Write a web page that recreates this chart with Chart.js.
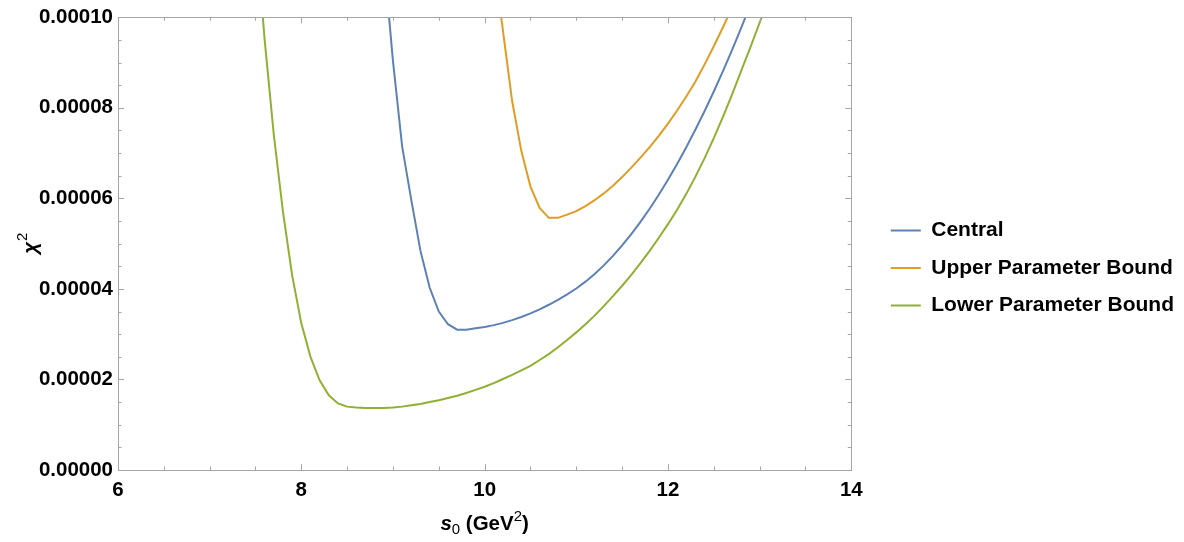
<!DOCTYPE html>
<html>
<head>
<meta charset="utf-8">
<title>chi2 vs s0</title>
<script src="https://cdn.jsdelivr.net/npm/chart.js@4.4.1/dist/chart.umd.min.js"></script>
<style>
	html, body { margin: 0; padding: 0; background: #ffffff; }
	#chi2Chart { display: block; }
</style>
</head>
<body>
<canvas id="chi2Chart" width="1184" height="542"></canvas>
<script>
	// Series labels
	var seriesNames = ['Central', 'Upper Parameter Bound', 'Lower Parameter Bound'];

	// s0 (GeV^2) sample points for each curve
	var s0Central = [8.9, 9.0, 9.1, 9.2, 9.3, 9.4, 9.5, 9.6, 9.7, 9.8, 9.9,
		10.0, 10.1, 10.2, 10.3, 10.4, 10.5, 10.6, 10.7, 10.8, 10.9,
		11.0, 11.1, 11.2, 11.3, 11.4, 11.5, 11.6, 11.7, 11.8, 11.9,
		12.0, 12.1, 12.2, 12.3, 12.4, 12.5, 12.6, 12.7, 12.8, 12.9];
	var s0Upper = [10.1, 10.2, 10.3, 10.4, 10.5, 10.6, 10.7, 10.8, 10.9,
		11.0, 11.1, 11.2, 11.3, 11.4, 11.5, 11.6, 11.7, 11.8, 11.9,
		12.0, 12.1, 12.2, 12.3, 12.4, 12.5, 12.6, 12.7];
	var s0Lower = [7.5, 7.6, 7.7, 7.8, 7.9,
		8.0, 8.1, 8.2, 8.3, 8.4, 8.5, 8.6, 8.7, 8.8, 8.9,
		9.0, 9.1, 9.2, 9.3, 9.4, 9.5, 9.6, 9.7, 9.8, 9.9,
		10.0, 10.1, 10.2, 10.3, 10.4, 10.5, 10.6, 10.7, 10.8, 10.9,
		11.0, 11.1, 11.2, 11.3, 11.4, 11.5, 11.6, 11.7, 11.8, 11.9,
		12.0, 12.1, 12.2, 12.3, 12.4, 12.5, 12.6, 12.7, 12.8, 12.9,
		13.0, 13.1];

	// chi^2 values, in units of 1e-6
	var chi2Central = [113, 90.3, 71.5, 59.6, 48.4, 40.3, 35.0, 32.2, 31.0, 31.0, 31.3,
		31.6, 32.0, 32.5, 33.1, 33.8, 34.6, 35.5, 36.5, 37.6, 38.8,
		40.1, 41.6, 43.3, 45.2, 47.3, 49.6, 52.1, 54.8, 57.7, 60.8,
		64.1, 67.6, 71.3, 75.2, 79.3, 83.6, 88.1, 92.8, 97.7, 102.8];
	var chi2Upper = [113, 97, 81.5, 70.5, 62.6, 57.9, 55.7, 55.7, 56.4,
		57.2, 58.3, 59.6, 61.1, 62.8, 64.7, 66.8, 69.0, 71.3, 73.8,
		76.5, 79.4, 82.5, 85.8, 89.6, 93.6, 97.8, 102.2];
	var chi2Lower = [120, 95, 74, 57, 43,
		32.4, 25.0, 19.8, 16.5, 14.7, 14.0, 13.8, 13.7, 13.7, 13.7,
		13.8, 14.0, 14.3, 14.6, 15.0, 15.4, 15.9, 16.4, 17.0, 17.7,
		18.4, 19.2, 20.1, 21.0, 22.0, 23.0, 24.3, 25.6, 27.1, 28.7,
		30.4, 32.2, 34.1, 36.2, 38.4, 40.7, 43.1, 45.7, 48.4, 51.3,
		54.3, 57.5, 61.0, 64.8, 68.9, 73.3, 78.0, 83.0, 88.2, 93.4,
		98.8, 104.4];

	// Axis ticks
	var xTickValues = [6, 8, 10, 12, 14];
	var yTickValues = [0, 20, 40, 60, 80, 100];   // x 1e-6

	var COLORS = ['#5E81B5', '#E19C24', '#8FB032'];
	var FRAME_COLOR = '#a6a6a6';
	var FONT_FAMILY = '"Liberation Sans", Arial, Helvetica, sans-serif';
	var FONT_SIZE = 20.5;

	// zip two arrays into {x, y} points
	function _points(xArr, yArr) {
		var out = [];
		for (var i = 0; i < xArr.length; i++) {
			out.push({x: xArr[i], y: yArr[i]});
		}
		return out;
	}

	// Frame with inward ticks on all four sides + axis titles (Mathematica look)
	var framePlugin = {
		id: 'frame',
		afterDraw: function(chart) {
			var ctx = chart.ctx, area = chart.chartArea;
			var xs = chart.scales.x, ys = chart.scales.y;
			var i, p;
			ctx.save();
			ctx.strokeStyle = FRAME_COLOR;
			ctx.lineWidth = 1;
			ctx.strokeRect(Math.round(area.left) + 0.5, Math.round(area.top) + 0.5,
				Math.round(area.right - area.left), Math.round(area.bottom - area.top));
			ctx.beginPath();
			// x ticks, every 0.5 (major every 2)
			for (i = 0; i <= 16; i++) {
				p = Math.round(xs.getPixelForValue(6 + i * 0.5)) + 0.5;
				var lx = (i % 4 === 0) ? 6 : 3.5;
				ctx.moveTo(p, area.bottom); ctx.lineTo(p, area.bottom - lx);
				ctx.moveTo(p, area.top); ctx.lineTo(p, area.top + lx);
			}
			// y ticks, every 5e-6 (major every 2e-5)
			for (i = 0; i <= 20; i++) {
				p = Math.round(ys.getPixelForValue(i * 5)) + 0.5;
				var ly = (i % 4 === 0) ? 6 : 3.5;
				ctx.moveTo(area.left, p); ctx.lineTo(area.left + ly, p);
				ctx.moveTo(area.right, p); ctx.lineTo(area.right - ly, p);
			}
			ctx.stroke();

			// x title: s0 (GeV^2)
			ctx.fillStyle = '#000';
			ctx.textBaseline = 'alphabetic';
			var parts = [
				{t: 's', f: 'italic bold ' + FONT_SIZE + 'px ' + FONT_FAMILY, dy: 0},
				{t: '0', f: '15px ' + FONT_FAMILY, dy: 4},
				{t: ' (GeV', f: 'bold ' + FONT_SIZE + 'px ' + FONT_FAMILY, dy: 0},
				{t: '2', f: '15px ' + FONT_FAMILY, dy: -9},
				{t: ')', f: 'bold ' + FONT_SIZE + 'px ' + FONT_FAMILY, dy: 0}
			];
			var total = 0;
			parts.forEach(function(pt) { ctx.font = pt.f; pt.w = ctx.measureText(pt.t).width; total += pt.w; });
			var x = (area.left + area.right) / 2 - total / 2;
			var baseY = 530;
			parts.forEach(function(pt) {
				ctx.font = pt.f;
				ctx.fillText(pt.t, x, baseY + pt.dy);
				x += pt.w;
			});

			// y title: chi^2, rotated
			ctx.translate(29, (area.top + area.bottom) / 2);
			ctx.rotate(-Math.PI / 2);
			ctx.textBaseline = 'middle';
			ctx.font = 'italic bold ' + FONT_SIZE + 'px ' + FONT_FAMILY;
			var wChi = ctx.measureText('\u03C7').width;
			ctx.font = '15px ' + FONT_FAMILY;
			var wTwo = ctx.measureText('2').width;
			var x0 = -(wChi + wTwo) / 2;
			ctx.font = 'italic bold ' + FONT_SIZE + 'px ' + FONT_FAMILY;
			ctx.fillText('\u03C7', x0, 2);
			ctx.font = '15px ' + FONT_FAMILY;
			ctx.fillText('2', x0 + wChi + 1, -6);
			ctx.restore();
		}
	};

	function buildChart() {
		var seriesX = [s0Central, s0Upper, s0Lower];
		var seriesY = [chi2Central, chi2Upper, chi2Lower];
		var datasets = [];
		for (var i = 0; i < seriesNames.length; i++) {
			datasets.push({
				label: seriesNames[i],
				data: _points(seriesX[i], seriesY[i]),
				borderColor: COLORS[i],
				backgroundColor: COLORS[i],
				borderWidth: 2,
				pointRadius: 0,
				tension: 0,
				fill: false
			});
		}

		Chart.defaults.font.family = FONT_FAMILY;
		Chart.defaults.font.weight = 'bold';
		Chart.defaults.font.size = FONT_SIZE;
		Chart.defaults.color = '#000';

		return new Chart(document.getElementById('chi2Chart'), {
			type: 'line',
			data: {datasets: datasets},
			plugins: [framePlugin],
			options: {
				responsive: false,
				animation: false,
				layout: {padding: {top: 16, right: 0, bottom: 22, left: 0}},
				plugins: {
					tooltip: {enabled: false},
					legend: {
						position: 'right',
						maxWidth: 330,
						labels: {
							usePointStyle: true,
							pointStyle: 'line',
							pointStyleWidth: 30,
							padding: 16.5,
							font: {size: 21, weight: 'bold'}
						}
					}
				},
				scales: {
					x: {
						type: 'linear',
						min: xTickValues[0],
						max: xTickValues[xTickValues.length - 1],
						afterBuildTicks: function(scale) {
							scale.ticks = xTickValues.map(function(v) { return {value: v}; });
						},
						ticks: {padding: 8, callback: function(v) { return v; }},
						grid: {display: false, drawTicks: false},
						border: {display: false},
						afterFit: function(scale) { scale.height = 50; }
					},
					y: {
						min: yTickValues[0],
						max: yTickValues[yTickValues.length - 1],
						afterBuildTicks: function(scale) {
							scale.ticks = yTickValues.map(function(v) { return {value: v}; });
						},
						ticks: {padding: 5, callback: function(v) { return (v * 1e-6).toFixed(5); }},
						grid: {display: false, drawTicks: false},
						border: {display: false},
						afterFit: function(scale) { scale.width = 118; }
					},
					// empty spacer between the frame and the legend
					gap: {
						position: 'right',
						display: true,
						ticks: {display: false},
						grid: {display: false, drawTicks: false},
						border: {display: false},
						afterFit: function(scale) { scale.width = 23; }
					}
				}
			}
		});
	}

	var chi2Chart = buildChart();
</script>
</body>
</html>
